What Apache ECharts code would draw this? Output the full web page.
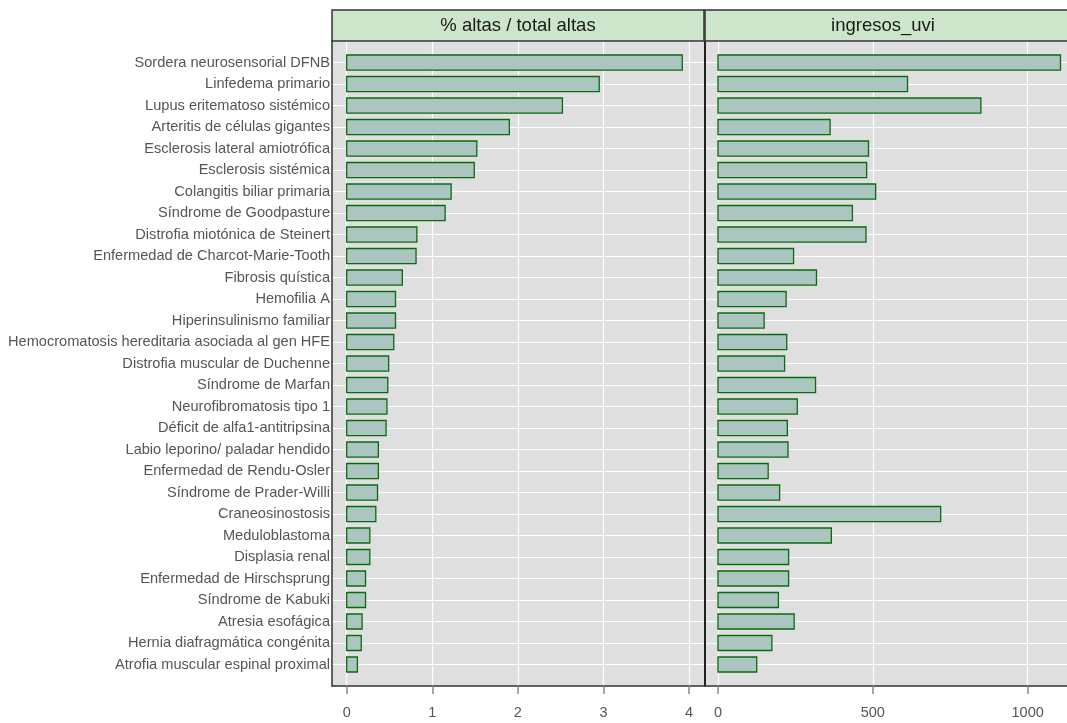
<!DOCTYPE html>
<html><head><meta charset="utf-8">
<script src="https://cdn.jsdelivr.net/npm/echarts@6/dist/echarts.min.js"></script>
<style>html,body{margin:0;padding:0;background:#fff}#c{width:1067px;height:723px}</style>
</head><body><div id="c"></div>
<script>
const categories = [
 "Sordera neurosensorial DFNB","Linfedema primario","Lupus eritematoso sistémico","Arteritis de células gigantes",
 "Esclerosis lateral amiotrófica","Esclerosis sistémica","Colangitis biliar primaria","Síndrome de Goodpasture",
 "Distrofia miotónica de Steinert","Enfermedad de Charcot-Marie-Tooth","Fibrosis quística","Hemofilia A",
 "Hiperinsulinismo familiar","Hemocromatosis hereditaria asociada al gen HFE","Distrofia muscular de Duchenne",
 "Síndrome de Marfan","Neurofibromatosis tipo 1","Déficit de alfa1-antitripsina","Labio leporino/ paladar hendido",
 "Enfermedad de Rendu-Osler","Síndrome de Prader-Willi","Craneosinostosis","Meduloblastoma","Displasia renal",
 "Enfermedad de Hirschsprung","Síndrome de Kabuki","Atresia esofágica","Hernia diafragmática congénita",
 "Atrofia muscular espinal proximal"
];
const pctAltas = [3.92,2.95,2.52,1.90,1.52,1.49,1.22,1.15,0.82,0.81,0.65,0.57,0.57,0.55,0.49,0.48,0.47,0.46,0.37,0.37,0.36,0.34,0.27,0.27,0.22,0.22,0.18,0.17,0.125];
const ingresosUvi = [1106,612,849,362,486,480,509,434,478,244,318,220,149,222,215,315,256,224,226,162,199,719,366,228,228,195,246,174,125];
const panelTitles = ["% altas / total altas","ingresos_uvi"];
const xTicksLeft = [0,1,2,3,4];
const xTicksRight = [0,500,1000];

const FONT = "Liberation Sans";
const chart = echarts.init(document.getElementById('c'), null, {renderer:'canvas'});

function renderBar(params, api){
  const v = api.value(0), i = api.value(1);
  const p0 = api.coord([0, i]);
  const p1 = api.coord([v, i]);
  const h = api.size([0, 0.7])[1];
  return {type:'rect', shape:{x:p0[0], y:p0[1]-h/2, width:p1[0]-p0[0], height:h},
    style:{fill:'#abc5c1', stroke:'#0b6b0b', lineWidth:1.3}};
}
const dataLeft = pctAltas.map((v,i)=>[v,i]);
const dataRight = ingresosUvi.map((v,i)=>[v,i]);

const PT=41, PB=686;
const L1=332, R1=704, L2=705, R2=1067;

function xAxisCfg(idx, min, max, ticks){
  return {type:'value', gridIndex:idx, min:min, max:max, splitNumber:4,
    axisLine:{show:true, onZero:false, lineStyle:{color:'#333', width:1.5}},
    axisTick:{show:true, length:8, customValues:ticks, lineStyle:{color:'#8a8a8a', width:1.5}},
    axisLabel:{show:true, customValues:ticks, margin:19, color:'#555', fontSize:14.5, fontFamily:FONT,
      formatter:(v)=>String(v)},
    splitLine:{show:true, lineStyle:{color:'#ffffff', width:1.2}},
    minorSplitLine:{show:false}
  };
}
function yAxisCfg(idx, labels){
  return {type:'value', gridIndex:idx, inverse:true, min:-1, max:29, interval:1,
    axisLine:{show:true, onZero:false, lineStyle:{color: idx===0 ? '#333' : '#222', width: idx===0 ? 1.5 : 2}},
    axisTick:{show:false},
    axisLabel:{show:labels, margin:2, color:'#555', fontSize:14.6, fontFamily:FONT,
      formatter:(v)=> (v>=0 && v<categories.length && Number.isInteger(v)) ? categories[v] : ''},
    splitLine:{show:true, lineStyle:{color:'#ffffff', width:1.2}}
  };
}

const option = {
  animation:false,
  backgroundColor:'#ffffff',
  grid:[
    {left:L1, width:R1-L1, top:PT, height:PB-PT, show:true, backgroundColor:'#dfdfdf', borderWidth:0, outerBoundsMode:'none'},
    {left:L2, width:R2-L2, top:PT, height:PB-PT, show:true, backgroundColor:'#dfdfdf', borderWidth:0, outerBoundsMode:'none'}
  ],
  xAxis:[ xAxisCfg(0, -0.1717, 4.174, xTicksLeft), xAxisCfg(1, -42, 1127, xTicksRight) ],
  yAxis:[ yAxisCfg(0, true), yAxisCfg(1, false) ],
  series:[
    {type:'custom', xAxisIndex:0, yAxisIndex:0, renderItem:renderBar, encode:{x:0,y:1}, data:dataLeft, clip:true},
    {type:'custom', xAxisIndex:1, yAxisIndex:1, renderItem:renderBar, encode:{x:0,y:1}, data:dataRight, clip:true}
  ],
  graphic:[
    {type:'rect', shape:{x:L1, y:10, width:R1-L1, height:PT-10}, style:{fill:'#cde6cb', stroke:'#333', lineWidth:1.5}, z:10},
    {type:'rect', shape:{x:L2, y:10, width:R2-L2+20, height:PT-10}, style:{fill:'#cde6cb', stroke:'#333', lineWidth:1.5}, z:10},
    {type:'text', x:(L1+R1)/2, y:25.5, style:{text:panelTitles[0], fill:'#1a1a1a', font:'18.5px "Liberation Sans"', textAlign:'center', textVerticalAlign:'middle'}, z:11},
    {type:'text', x:(L2+R2)/2 - 3, y:25.5, style:{text:panelTitles[1], fill:'#1a1a1a', font:'18.5px "Liberation Sans"', textAlign:'center', textVerticalAlign:'middle'}, z:11}
  ]
};
chart.setOption(option);
</script></body></html>
